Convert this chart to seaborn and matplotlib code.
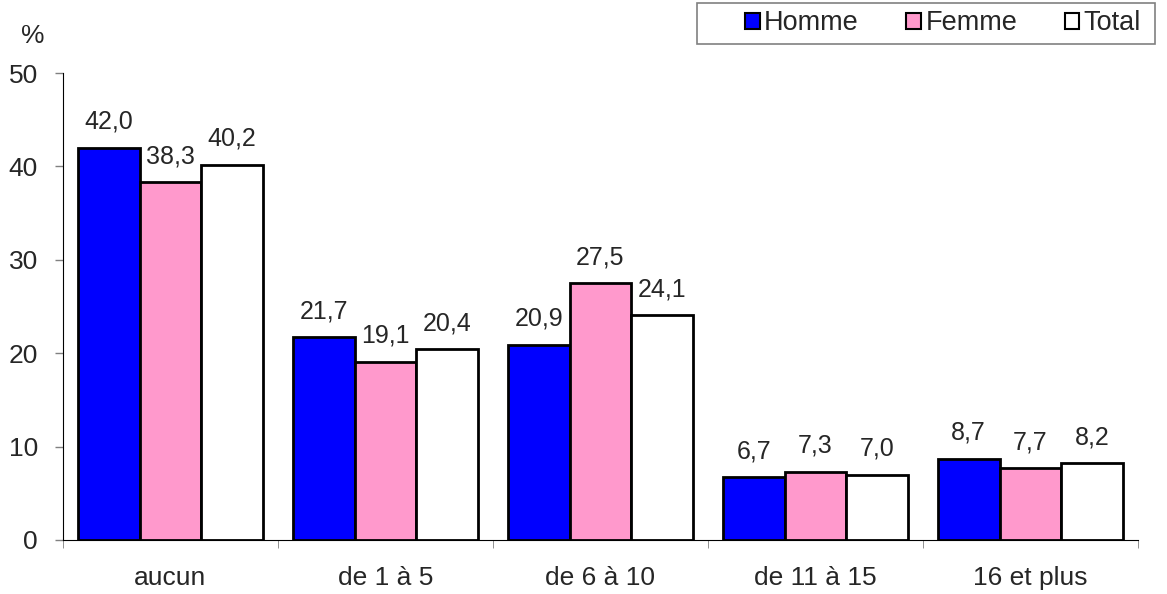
import matplotlib
matplotlib.use("Agg")
import matplotlib.pyplot as plt
import matplotlib.patches as mpatches
import pandas as pd
import seaborn as sns

# Data
categories = ["aucun", "de 1 à 5", "de 6 à 10", "de 11 à 15", "16 et plus"]
series = ["Homme", "Femme", "Total"]
homme = [42.0, 21.7, 20.9, 6.7, 8.7]
femme = [38.3, 19.1, 27.5, 7.3, 7.7]
total = [40.2, 20.4, 24.1, 7.0, 8.2]
colors = ["#0000FF", "#FF99CC", "#FFFFFF"]

df = pd.DataFrame({
    "cat": categories * 3,
    "serie": [s for s in series for _ in categories],
    "val": homme + femme + total,
})

sns.set_style("white")
plt.rcParams["font.family"] = ["Liberation Sans", "DejaVu Sans"]
FS = 19

fig = plt.figure(figsize=(11.67, 5.94), dpi=100)
ax = fig.add_axes([0.054, 0.091, 0.921, 0.786])

sns.barplot(data=df, x="cat", y="val", hue="serie", hue_order=series,
            palette=colors, edgecolor="black", linewidth=2, width=0.86,
            saturation=1, ax=ax)

for cont in ax.containers:
    labels = [f"{v:.1f}".replace(".", ",") for v in cont.datavalues]
    ax.bar_label(cont, labels=labels, padding=10, fontsize=18)

ax.set_ylim(0, 50)
ax.set_xlim(-0.5, len(categories) - 0.5)
ax.set_yticks(range(0, 51, 10))
ax.set_xlabel("")
ax.set_ylabel("")
ax.tick_params(axis="both", labelsize=FS)
ax.tick_params(axis="y", direction="out", length=6, width=1, color="gray", left=True, pad=12)
ax.tick_params(axis="x", length=0, pad=19)
# minor ticks at category boundaries
ax.set_xticks([i - 0.5 for i in range(len(categories) + 1)], minor=True)
ax.tick_params(axis="x", which="minor", direction="out", length=6, color="gray", bottom=True)

for side in ["top", "right"]:
    ax.spines[side].set_visible(False)
ax.spines["left"].set_color("black")
ax.spines["bottom"].set_color("black")

fig.text(0.028, 0.94, "%", fontsize=FS, ha="center", va="center")

# legend frame drawn separately, legend entries without frame
fig.patches.append(mpatches.Rectangle((0.597, 0.926), 0.393, 0.069, transform=fig.transFigure,
                                      facecolor="white", edgecolor="gray", linewidth=1.2,
                                      zorder=1))
handles, lbls = ax.get_legend_handles_labels()
ax.get_legend().remove()
leg = fig.legend(handles, lbls, ncol=3, loc="center left",
                 bbox_to_anchor=(0.627, 0.9605), bbox_transform=fig.transFigure,
                 frameon=False, fontsize=19.5,
                 handlelength=0.55, handleheight=0.55, handletextpad=0.15, columnspacing=1.75,
                 borderpad=0.0)
leg.set_zorder(5)
for h in leg.legend_handles:
    h.set_linewidth(1.5)

fig.savefig("out.png", dpi=100)
